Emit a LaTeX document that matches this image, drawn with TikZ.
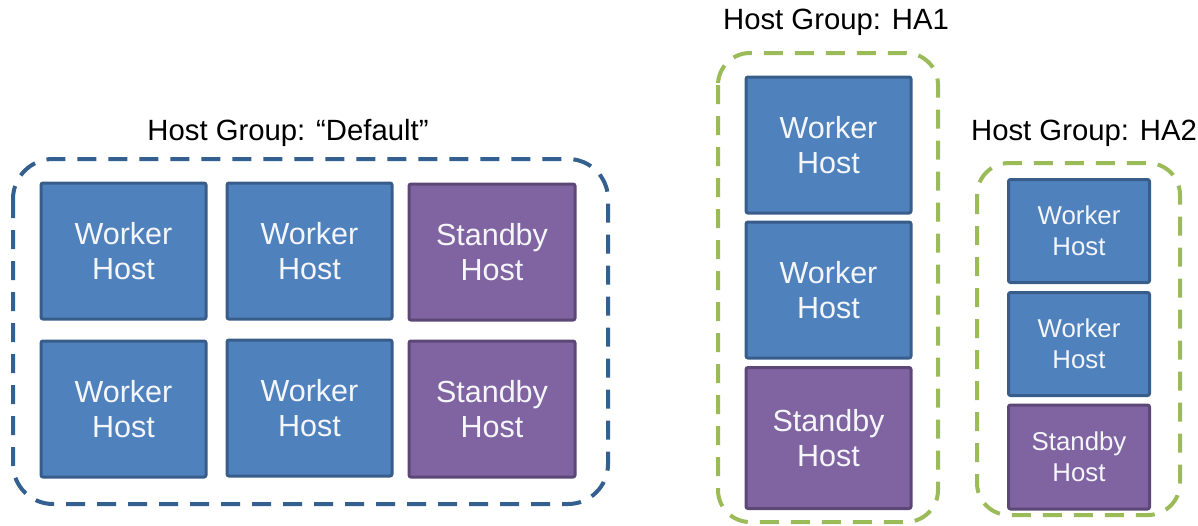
\documentclass[tikz,border=0pt]{standalone}
\usepackage{fontspec}
\setmainfont{Liberation Sans}
\definecolor{wfill}{HTML}{4F81BD}
\definecolor{wdraw}{HTML}{385D8A}
\definecolor{sfill}{HTML}{8064A2}
\definecolor{sdraw}{HTML}{5C4776}
\definecolor{gblue}{HTML}{34608F}
\definecolor{ggreen}{HTML}{9BBB59}
\definecolor{htext}{HTML}{F4F6FA}
\tikzset{
  hostbox/.style={draw=wdraw, fill=wfill, line width=3pt, rounded corners=2pt, text=htext, align=center, inner sep=0pt, font=\fontsize{30.5}{35.5}\selectfont},
  workerbox/.style={hostbox},
  standbybox/.style={hostbox, draw=sdraw, fill=sfill},
  smallfont/.style={font=\fontsize{25.8}{31}\selectfont},
  groupblue/.style={draw=gblue, line width=4pt, dash pattern=on 19pt off 12pt, rounded corners=40pt},
  groupgreen/.style={draw=ggreen, line width=4pt, dash pattern=on 19pt off 12pt, rounded corners=32pt},
  grouptitle/.style={font=\fontsize{29.3}{34}\selectfont, text=black, inner sep=0pt}
}
\begin{document}
\begin{tikzpicture}[x=1pt, y=-1pt]
\useasboundingbox (0,0) rectangle (1198,525);
% Default group
\draw[groupblue] (13,159) rectangle (608,504);
\node[grouptitle] (tdef) at (288,133) {Host Group: “Default”};
\node[workerbox, minimum width=165pt, minimum height=136pt] (d1) at (123.5,251) {Worker\\Host};
\node[workerbox, minimum width=165pt, minimum height=136pt] (d2) at (309.5,251) {Worker\\Host};
\node[standbybox, minimum width=166pt, minimum height=136pt] (d3) at (492,252) {Standby\\Host};
\node[workerbox, minimum width=165pt, minimum height=136pt] (d4) at (123.5,409) {Worker\\Host};
\node[workerbox, minimum width=165pt, minimum height=136pt] (d5) at (309.5,408) {Worker\\Host};
\node[standbybox, minimum width=166pt, minimum height=136pt] (d6) at (492,409) {Standby\\Host};
% HA1 group
\draw[groupgreen] (718,53) rectangle (938,522);
\node[grouptitle] (tha1) at (836,22) {Host Group: HA1};
\node[workerbox, minimum width=165pt, minimum height=136pt] (a1) at (828.5,145) {Worker\\Host};
\node[workerbox, minimum width=165pt, minimum height=136pt] (a2) at (828.5,290) {Worker\\Host};
\node[standbybox, minimum width=165pt, minimum height=141pt] (a3) at (828.5,438) {Standby\\Host};
% HA2 group
\draw[groupgreen] (977,163) rectangle (1180,515);
\node[grouptitle] (tha2) at (1084,133) {Host Group: HA2};
\node[workerbox, smallfont, minimum width=141pt, minimum height=103pt] (b1) at (1079,231) {Worker\\Host};
\node[workerbox, smallfont, minimum width=141pt, minimum height=103pt] (b2) at (1079,344) {Worker\\Host};
\node[standbybox, smallfont, minimum width=141pt, minimum height=104pt] (b3) at (1079,457) {Standby\\Host};
\end{tikzpicture}
\end{document}
